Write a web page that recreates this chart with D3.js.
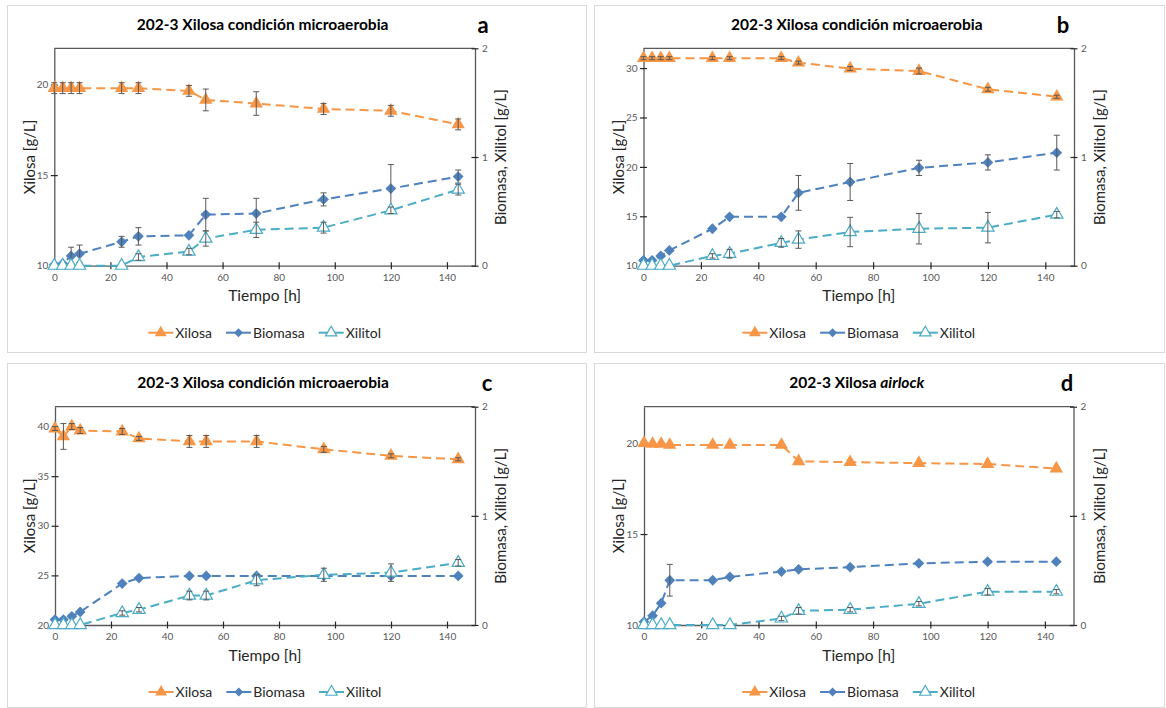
<!DOCTYPE html>
<html>
<head>
<meta charset="utf-8">
<script src="https://cdn.jsdelivr.net/npm/d3@7"></script>
<style>
  html, body { margin: 0; padding: 0; background: #ffffff; }
  svg { display: block; font-family: Lato, "Open Sans", sans-serif; }
</style>
</head>
<body>
<script>
// Sampling times (h)
const tiempo = [0, 3, 6, 9, 24, 30, 48, 54, 72, 96, 120, 144];
const xTicks = [0, 20, 40, 60, 80, 100, 120, 140];
const rightTicks = [0, 1, 2];
const seriesNames = ["Xilosa", "Biomasa", "Xilitol"];

// Panel a – microaerobic, ~20 g/L xylose
const xilosaA      = [19.8, 19.8, 19.8, 19.8, 19.8, 19.8, 19.65, 19.15, 18.95, 18.65, 18.55, 17.8];
const xilosaErrA   = [0.3, 0.3, 0.3, 0.3, 0.3, 0.3, 0.3, 0.6, 0.65, 0.3, 0.3, 0.3];
const biomasaA     = [0.01, 0.02, 0.09, 0.11, 0.22, 0.27, 0.28, 0.47, 0.48, 0.61, 0.71, 0.82];
const biomasaErrA  = [0, 0, 0.08, 0.08, 0.05, 0.08, 0, 0.15, 0.14, 0.06, 0.22, 0.06];
const xilitolA     = [0, 0, 0, 0, 0, 0.08, 0.13, 0.25, 0.33, 0.35, 0.51, 0.70];
const xilitolErrA  = [0, 0, 0, 0, 0, 0.03, 0.03, 0.07, 0.07, 0.05, 0.03, 0.05];

// Panel b – microaerobic, ~31 g/L xylose
const xilosaB      = [31.0, 31.0, 31.0, 31.0, 31.0, 31.0, 31.0, 30.55, 29.95, 29.7, 27.85, 27.1];
const xilosaErrB   = [0.15, 0.15, 0.15, 0.15, 0.15, 0.15, 0.15, 0.15, 0.2, 0.3, 0.2, 0.15];
const biomasaB     = [0.05, 0.05, 0.09, 0.14, 0.34, 0.45, 0.45, 0.67, 0.77, 0.90, 0.95, 1.04];
const biomasaErrB  = [0, 0, 0, 0, 0, 0, 0, 0.16, 0.17, 0.07, 0.07, 0.16];
const xilitolB     = [0, 0, 0, 0, 0.09, 0.11, 0.21, 0.24, 0.31, 0.34, 0.35, 0.47];
const xilitolErrB  = [0, 0, 0, 0, 0.02, 0.04, 0.04, 0.08, 0.135, 0.14, 0.14, 0.03];

// Panel c – microaerobic, ~40 g/L xylose
const xilosaC      = [39.8, 39.0, 40.0, 39.6, 39.5, 38.8, 38.5, 38.5, 38.5, 37.7, 37.05, 36.7];
const xilosaErrC   = [0.2, 1.3, 0.3, 0.3, 0.3, 0.2, 0.6, 0.6, 0.6, 0.3, 0.2, 0.15];
const biomasaC     = [0.05, 0.05, 0.08, 0.12, 0.38, 0.43, 0.45, 0.45, 0.45, 0.45, 0.45, 0.45];
const biomasaErrC  = [0, 0, 0, 0, 0, 0, 0, 0, 0, 0, 0, 0];
const xilitolC     = [0, 0, 0, 0, 0.11, 0.14, 0.27, 0.27, 0.41, 0.46, 0.48, 0.57];
const xilitolErrC  = [0, 0, 0, 0, 0.02, 0.02, 0.04, 0.04, 0.05, 0.06, 0.08, 0.03];

// Panel d – airlock, ~20 g/L xylose
const xilosaD      = [20.0, 19.95, 19.95, 19.9, 19.9, 19.9, 19.9, 19.0, 18.95, 18.9, 18.85, 18.6];
const xilosaErrD   = [0, 0, 0, 0, 0, 0, 0, 0, 0, 0, 0, 0];
const biomasaD     = [0.03, 0.085, 0.2, 0.41, 0.41, 0.44, 0.49, 0.51, 0.53, 0.565, 0.58, 0.58];
const biomasaErrD  = [0, 0, 0, 0.145, 0, 0, 0, 0, 0, 0, 0, 0];
const xilitolD     = [0, 0, 0, 0, 0, 0, 0.06, 0.13, 0.14, 0.195, 0.305, 0.305];
const xilitolErrD  = [0, 0, 0, 0, 0, 0, 0.02, 0.03, 0.02, 0.02, 0.03, 0.02];

const colors = { Xilosa: "#F79646", Biomasa: "#4F81BD", Xilitol: "#4BACC6" };
const axisColor = "#595959";

const panels = [
  { letter: "a", title: ["202-3 Xilosa condición microaerobia"], box: [7, 5, 586, 352],
    plot: [54.3, 48.3, 475, 265.7], yDomain: [10, 22], yTicks: [10, 15, 20], letterX: 483,
    data: [[xilosaA, xilosaErrA], [biomasaA, biomasaErrA], [xilitolA, xilitolErrA]] },
  { letter: "b", title: ["202-3 Xilosa condición microaerobia"], box: [594, 5, 1164, 352],
    plot: [643.5, 48.3, 1074, 265.7], yDomain: [10, 32], yTicks: [10, 15, 20, 25, 30], letterX: 1063,
    data: [[xilosaB, xilosaErrB], [biomasaB, biomasaErrB], [xilitolB, xilitolErrB]] },
  { letter: "c", title: ["202-3 Xilosa condición microaerobia"], box: [7, 363, 586, 707],
    plot: [55, 406.7, 475, 625], yDomain: [20, 42], yTicks: [20, 25, 30, 35, 40], letterX: 487,
    data: [[xilosaC, xilosaErrC], [biomasaC, biomasaErrC], [xilitolC, xilitolErrC]] },
  { letter: "d", title: ["202-3 Xilosa ", "airlock"], box: [594, 363, 1164, 707],
    plot: [644, 406.7, 1073.5, 625], yDomain: [10, 22], yTicks: [10, 15, 20], letterX: 1067,
    data: [[xilosaD, xilosaErrD], [biomasaD, biomasaErrD], [xilitolD, xilitolErrD]] }
];

const svg = d3.select("body").append("svg").attr("width", 1166).attr("height", 708);

function drawPanel(p) {
  const [bx0, by0, bx1, by1] = p.box;
  const [px0, py0, px1, py1] = p.plot;
  const g = svg.append("g");

  g.append("rect").attr("x", bx0 + 0.5).attr("y", by0 + 0.5)
    .attr("width", bx1 - bx0).attr("height", by1 - by0)
    .attr("fill", "#ffffff").attr("stroke", "#d9d9d9").attr("stroke-width", 1);

  const x = d3.scaleLinear().domain([0, 150]).range([px0, px1]);
  const yL = d3.scaleLinear().domain(p.yDomain).range([py1, py0]);
  const yR = d3.scaleLinear().domain([0, 2]).range([py1, py0]);
  const cx = (px0 + px1) / 2;

  // Title and panel letter
  const title = g.append("text").attr("x", cx - 2).attr("y", py0 - 18.5)
    .attr("text-anchor", "middle").attr("font-size", 15.5).attr("font-weight", 700).attr("fill", "#000");
  title.append("tspan").text(p.title[0]);
  if (p.title[1]) title.append("tspan").attr("font-style", "italic").text(p.title[1]);
  g.append("text").attr("x", p.letterX).attr("y", py0 - 15.5).attr("text-anchor", "middle")
    .attr("font-size", 22).attr("font-weight", 700).attr("fill", "#000").text(p.letter);

  // Plot frame (top edge)
  g.append("line").attr("x1", px0).attr("x2", px1).attr("y1", py0).attr("y2", py0)
    .attr("stroke", axisColor).attr("stroke-width", 1.3);

  const styleAxis = (sel, horizontal) => {
    sel.select(".domain").attr("stroke", axisColor).attr("stroke-width", 1.3);
    sel.selectAll(".tick line").attr("stroke", "#262626").attr("stroke-width", 1.2);
    if (horizontal) sel.selectAll(".tick line").attr("y1", -3.5).attr("y2", 3.5);
    else sel.selectAll(".tick line").attr("x1", -3.5).attr("x2", 3.5);
    sel.selectAll(".tick text").attr("fill", axisColor).attr("font-size", 10)
      .attr("font-family", "Lato, 'Open Sans', sans-serif");
  };

  const fmt = d3.format("d");
  g.append("g").attr("transform", `translate(0,${py1})`)
    .call(d3.axisBottom(x).tickValues(xTicks).tickFormat(fmt).tickSizeOuter(0).tickSizeInner(0).tickPadding(8))
    .call(s => styleAxis(s, true));
  g.append("g").attr("transform", `translate(${px0},0)`)
    .call(d3.axisLeft(yL).tickValues(p.yTicks).tickFormat(fmt).tickSizeOuter(0).tickSizeInner(0).tickPadding(6))
    .call(s => styleAxis(s, false));
  g.append("g").attr("transform", `translate(${px1},0)`)
    .call(d3.axisRight(yR).tickValues(rightTicks).tickFormat(fmt).tickSizeOuter(0).tickSizeInner(0).tickPadding(7))
    .call(s => styleAxis(s, false));

  // Axis titles
  g.append("text").attr("transform", `translate(${px0 - 25},${(py0 + py1) / 2}) rotate(-90)`)
    .attr("text-anchor", "middle").attr("dy", "0.35em").attr("font-size", 15).attr("fill", "#262626")
    .text("Xilosa [g/L]");
  g.append("text").attr("transform", `translate(${px1 + 26},${(py0 + py1) / 2}) rotate(-90)`)
    .attr("text-anchor", "middle").attr("dy", "0.35em").attr("font-size", 15).attr("fill", "#262626")
    .text("Biomasa, Xilitol [g/L]");
  g.append("text").attr("x", cx).attr("y", py1 + 35.5).attr("text-anchor", "middle")
    .attr("font-size", 15.5).attr("fill", "#262626").text("Tiempo [h]");

  // Series: lines, markers, error bars
  seriesNames.forEach((name, si) => {
    const [vals, errs] = p.data[si];
    const y = si === 0 ? yL : yR;
    const pts = tiempo.map((t, i) => ({ t, v: vals[i], e: errs[i] }));
    const line = d3.line().x(d => x(d.t)).y(d => y(d.v));
    g.append("path").datum(pts).attr("d", line).attr("fill", "none")
      .attr("stroke", colors[name]).attr("stroke-width", 2).attr("stroke-dasharray", "9,5");

    const mk = g.append("g").selectAll("g").data(pts).join("g")
      .attr("transform", d => `translate(${x(d.t)},${y(d.v)})`);
    if (name === "Biomasa") {
      mk.append("path").attr("d", d3.symbol(d3.symbolSquare, 58)()).attr("transform", "rotate(45)")
        .attr("fill", colors.Biomasa);
    } else if (name === "Xilosa") {
      mk.append("path").attr("d", d3.symbol(d3.symbolTriangle, 78)()).attr("fill", colors.Xilosa);
    } else {
      mk.append("path").attr("d", d3.symbol(d3.symbolTriangle, 66)())
        .attr("fill", "#ffffff").attr("stroke", colors.Xilitol).attr("stroke-width", 1.2);
    }

    const eb = g.append("g").attr("stroke", "#595959").attr("stroke-width", 1)
      .selectAll("g").data(pts.filter(d => d.e > 0)).join("g");
    eb.append("line").attr("x1", d => x(d.t)).attr("x2", d => x(d.t))
      .attr("y1", d => y(d.v - d.e)).attr("y2", d => y(d.v + d.e));
    eb.append("line").attr("x1", d => x(d.t) - 3).attr("x2", d => x(d.t) + 3)
      .attr("y1", d => y(d.v + d.e)).attr("y2", d => y(d.v + d.e));
    eb.append("line").attr("x1", d => x(d.t) - 3).attr("x2", d => x(d.t) + 3)
      .attr("y1", d => y(d.v - d.e)).attr("y2", d => y(d.v - d.e));
  });

  // Legend
  const ly = py1 + 67;
  const leg = g.append("g");
  let cursor = 0;
  seriesNames.forEach(name => {
    const item = leg.append("g").attr("transform", `translate(${cursor},0)`);
    item.append("line").attr("x1", 0).attr("x2", 25).attr("y1", 0).attr("y2", 0)
      .attr("stroke", colors[name]).attr("stroke-width", 2);
    const m = item.append("g").attr("transform", "translate(12.5,0)");
    if (name === "Biomasa") {
      m.append("path").attr("d", d3.symbol(d3.symbolSquare, 40)()).attr("transform", "rotate(45)").attr("fill", colors.Biomasa);
    } else if (name === "Xilosa") {
      m.append("path").attr("d", d3.symbol(d3.symbolTriangle, 62)()).attr("fill", colors.Xilosa);
    } else {
      m.append("path").attr("d", d3.symbol(d3.symbolTriangle, 55)()).attr("fill", "#fff")
        .attr("stroke", colors.Xilitol).attr("stroke-width", 1.2);
    }
    const txt = item.append("text").attr("x", 27).attr("y", 0).attr("dy", "0.35em")
      .attr("font-size", 14).attr("fill", "#262626").text(name);
    cursor += 27 + txt.node().getComputedTextLength() + 14;
  });
  const legW = cursor - 14;
  leg.attr("transform", `translate(${cx - legW / 2},${ly})`);
}

panels.forEach(drawPanel);
</script>
</body>
</html>
